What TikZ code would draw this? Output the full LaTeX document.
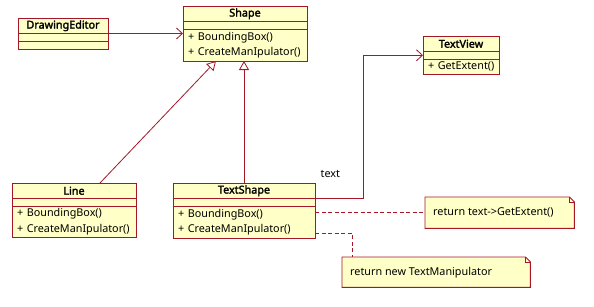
\documentclass[tikz,border=0pt]{standalone}
\usepackage{fontspec}
\setmainfont{Noto Sans}[BoldFont={Noto Sans}, BoldFeatures={FakeBold=2.2}]
\usetikzlibrary{arrows.meta, positioning}

\definecolor{umlred}{RGB}{165,22,40}
\definecolor{umlfill}{RGB}{255,255,200}

\tikzset{
	cls/.style={draw=umlred, fill=umlfill, line width=0.9pt, inner sep=0pt, outer sep=0pt},
	clstitle/.style={cls, font=\fontsize{10.8}{13}\selectfont\bfseries, minimum height=15.5pt},
	clsattr/.style={cls, minimum height=7.5pt},
	clsops/.style={cls, align=left, inner xsep=5pt, execute at begin node={\hyphenpenalty=10000\relax}},
	notebox/.style={draw=umlred, fill=umlfill, line width=0.9pt, line join=miter},
	assoc/.style={draw=umlred, line width=0.8pt, -{Straight Barb[length=6pt, width=11pt]}},
	gen/.style={draw=umlred, line width=0.8pt, -{Triangle[open, length=9pt, width=10pt, fill=white]}},
	anchorline/.style={draw=umlred, line width=0.8pt, dash pattern=on 4pt off 2.5pt},
}

% class box: name, top left, width, title, operations, height of operations
\newcommand{\umlclass}[6]{%
	\pgfmathsetmacro\opswd{#3-10}
	\node[clstitle, minimum width=#3pt, anchor=north west] (#1) at (#2) {#4};
	\node[clsattr, minimum width=#3pt, below=0pt of #1] (#1-attr) {};
	\node[clsops, text width=\opswd pt, minimum height=#6pt, below=0pt of #1-attr] (#1-ops) {#5};
}

% note with folded corner: name, top left, width, height, text
\newcommand{\umlnote}[5]{%
	\node[minimum width=#3pt, minimum height=#4pt, inner sep=0pt, anchor=north west] (#1) at (#2) {};
	\filldraw[notebox] (#1.north west) -- ([xshift=-5pt]#1.north east) -- ([yshift=-5pt]#1.north east)
		-- (#1.south east) -- (#1.south west) -- cycle;
	\draw[notebox, fill=none] ([xshift=-5pt]#1.north east) |- ([yshift=-5pt]#1.north east);
	\node[right, inner sep=0pt] (#1-text) at ([xshift=8pt]#1.west) {#5};
}

\begin{document}
\begin{tikzpicture}[x=1pt, y=-1pt, font=\fontsize{10.8}{15.5}\selectfont, line cap=butt]
\useasboundingbox (0,0) rectangle (594,306);

% ==== classes ====
\umlclass{editor}{18,18}{90}{DrawingEditor}{}{8}
\umlclass{shape}{183,6}{124}{Shape}{+~BoundingBox()\\+~CreateManIpulator()}{32}
\umlclass{textview}{423,36}{76}{TextView}{+~GetExtent()}{15}
\umlclass{line}{12,183}{124}{Line}{+~BoundingBox()\\+~CreateManIpulator()}{31}
\umlclass{textshape}{173,183}{142}{TextShape}{+~BoundingBox()\\+~CreateManIpulator()}{32}

% ==== notes ====
\umlnote{extent}{425,197}{149}{31}{return text->GetExtent()}
\umlnote{manip}{342,257}{188}{30}{return new TextManipulator}

% ==== relations ====
\draw[assoc] (editor.south east) -- (editor.south east -| shape.west);
\draw[gen] ([xshift=26pt]line.north) -- ([xshift=-29pt]shape-ops.south);
\draw[gen] (textshape.north) -- (textshape.north |- shape-ops.south);
\draw[assoc] (textshape.south east) -- ++(48,0) node[pos=0.32, above=17pt] (textlbl) {text}
	|- (textview-attr.west);

% notes are anchored to the operations
\draw[anchorline] (extent.west -| textshape-ops.east) -- (extent.west);
\draw[anchorline] ([yshift=-11pt]textshape-ops.east) -| ([xshift=10pt]manip.north west);

\end{tikzpicture}
\end{document}
